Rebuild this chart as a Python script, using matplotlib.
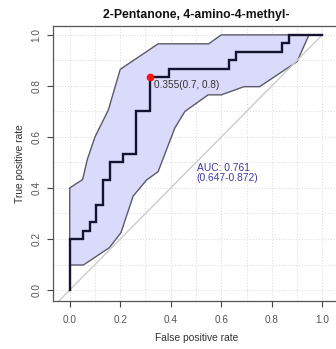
import matplotlib
matplotlib.use("Agg")
import matplotlib.pyplot as plt
import numpy as np

plt.rcParams['font.family'] = ['Liberation Sans', 'DejaVu Sans']

title = "2-Pentanone, 4-amino-4-methyl-"
# ROC curve (false positive rate, true positive rate) vertices
roc_fpr = [0.0, 0.0, 0.053, 0.053, 0.079, 0.079, 0.105, 0.105, 0.132, 0.132, 0.158, 0.158,
           0.211, 0.211, 0.263, 0.263, 0.316, 0.316, 0.395, 0.395, 0.632, 0.632, 0.658, 0.658,
           0.842, 0.842, 0.868, 0.868, 1.0]
roc_tpr = [0.0, 0.2, 0.2, 0.233, 0.233, 0.267, 0.267, 0.333, 0.333, 0.433, 0.433, 0.5,
           0.5, 0.533, 0.533, 0.7, 0.7, 0.833, 0.833, 0.867, 0.867, 0.9, 0.9, 0.933,
           0.933, 0.967, 0.967, 1.0, 1.0]
# Confidence band: upper edge then lower edge (reverse)
ci_upper_fpr = [0.0, 0.051, 0.07, 0.1, 0.153, 0.2, 0.35, 0.55, 0.6, 0.947]
ci_upper_tpr = [0.4, 0.433, 0.513, 0.6, 0.706, 0.865, 0.965, 0.965, 1.0, 1.0]
ci_lower_fpr = [0.947, 0.9, 0.752, 0.69, 0.6, 0.548, 0.456, 0.416, 0.35, 0.304, 0.251,
                0.203, 0.157, 0.054, 0.0]
ci_lower_tpr = [1.0, 0.895, 0.797, 0.797, 0.765, 0.765, 0.70, 0.635, 0.464, 0.431, 0.368,
                0.225, 0.166, 0.098, 0.098]
best_thr = 0.355
best_fpr, best_tpr = 0.316, 0.833
best_label = "0.355(0.7, 0.8)"
auc_text = "AUC: 0.761\n(0.647-0.872)"
xticks = [0.0, 0.2, 0.4, 0.6, 0.8, 1.0]
yticks = [0.0, 0.2, 0.4, 0.6, 0.8, 1.0]

W, H = 336, 349
fig = plt.figure(figsize=(W / 100, H / 100), dpi=100)
left, right_px, top, bottom = 53.3, 340.0, 25.7, 301.0
ax = fig.add_axes([left / W, (H - bottom) / H, (right_px - left) / W, (bottom - top) / H])
ax.set_xlim(-0.065, 1.07)
ax.set_ylim(-0.043, 1.036)

grid = np.round(np.arange(0, 1.01, 0.1), 2)
for g in grid:
    ax.axvline(g, color='#dedede', lw=0.8, ls=(0, (1, 1.6)), zorder=0)
    ax.axhline(g, color='#dedede', lw=0.8, ls=(0, (1, 1.6)), zorder=0)

poly_x = ci_upper_fpr + ci_lower_fpr
poly_y = ci_upper_tpr + ci_lower_tpr
ax.fill(poly_x, poly_y, facecolor='#dadafa', edgecolor='#5a5a6a', lw=1.0, zorder=1)

ax.plot([-0.1, 1.0], [-0.1, 1.0], color='#cccccc', lw=1.0, zorder=2)
ax.plot(roc_fpr, roc_tpr, color='#141430', lw=1.7, zorder=3, solid_joinstyle='miter')
ax.plot([best_fpr], [best_tpr], 'o', color='#ff1010', ms=4.5, zorder=4)
ax.text(best_fpr + 0.018, best_tpr - 0.03, best_label, fontsize=7.2, color='#333333',
        ha='left', va='center', zorder=5)
ax.text(0.502, 0.458, auc_text, fontsize=7.4, color='#3c3ca0', ha='left', va='center',
        linespacing=1.0, zorder=5)

ax.set_xticks(xticks)
ax.set_xticklabels([f"{v:.1f}" for v in xticks], fontsize=7.2, color='#555555')
ax.set_yticks(yticks)
ax.set_yticklabels([f"{v:.1f}" for v in yticks], fontsize=7.2, color='#555555',
                   rotation=90, va='center')
ax.tick_params(axis='both', length=4, width=0.8, color='#444444')
ax.tick_params(axis='x', pad=6)
ax.tick_params(axis='y', pad=4.5)
for s in ax.spines.values():
    s.set_color('#555555')
    s.set_linewidth(0.9)

ax.set_xlabel("False positive rate", fontsize=7.4, color='#333333', labelpad=6)
ax.set_ylabel("True positive rate", fontsize=7.4, color='#333333', labelpad=5)
fig.text(195.8 / W, 1 - 15 / H, title, fontsize=8.8, fontweight='bold', ha='center',
         va='center', color='#111111')

fig.savefig("out.png", dpi=100)
